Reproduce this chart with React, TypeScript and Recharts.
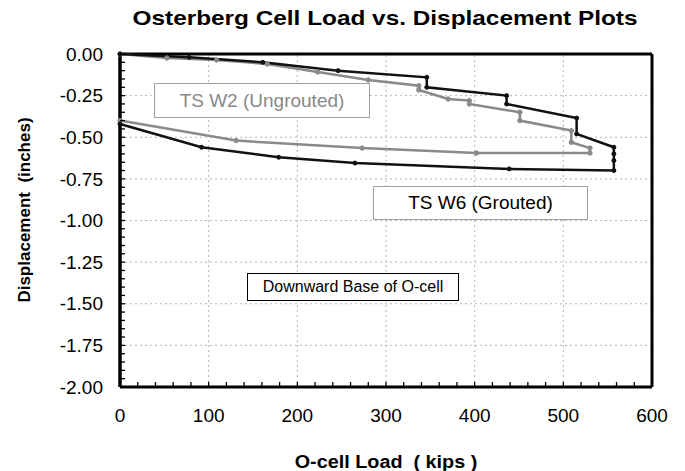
import { LineChart, Line, XAxis, YAxis, ReferenceLine } from "recharts";

// TS W6 (Grouted) - load (kips) / displacement (in), loading then unloading
const w6Load = [0, 78, 161, 246, 346, 346, 436, 436, 515, 515, 557, 557, 557, 557, 439, 265, 179, 92, 0];
const w6Disp = [0, -0.02, -0.05, -0.1, -0.14, -0.2, -0.25, -0.3, -0.385, -0.48, -0.56, -0.6, -0.64, -0.7, -0.69, -0.655, -0.62, -0.56, -0.42];

// TS W2 (Ungrouted)
const w2Load = [0, 53, 109, 166, 223, 280, 337, 337, 370, 394, 394, 451, 451, 509, 509, 530, 530, 402, 273, 131, 0];
const w2Disp = [0, -0.024, -0.036, -0.06, -0.108, -0.156, -0.19, -0.216, -0.27, -0.28, -0.3, -0.35, -0.4, -0.46, -0.53, -0.565, -0.595, -0.595, -0.565, -0.52, -0.4];

const xTicks = [0, 100, 200, 300, 400, 500, 600];
const yTicks = [0, -0.25, -0.5, -0.75, -1, -1.25, -1.5, -1.75, -2];
// minor tick marks: every 20 kips / every 0.05 in
const xMinor = Array.from({ length: 31 }, (_, i) => i * 20);
const yMinor = Array.from({ length: 41 }, (_, i) => Math.round(-i * 5) / 100);

const w6Data = w6Load.map((x, i) => ({ x, y: w6Disp[i] }));
const w2Data = w2Load.map((x, i) => ({ x, y: w2Disp[i] }));

const font = "'Liberation Sans', Arial, sans-serif";
const grid = "#b4b4b4";

function XTick({ x, y, payload }: any) {
  const v = payload.value;
  const major = xTicks.includes(v);
  return (
    <g>
      <line x1={x} x2={x} y1={y} y2={y - 5} stroke="#000" strokeWidth={1.3} />
      {major && (
        <text x={x} y={y + 22} dy="0.71em" textAnchor="middle" fill="#000" fontSize={19} fontFamily={font}>
          {v}
        </text>
      )}
    </g>
  );
}

function YTick({ x, y, payload }: any) {
  const v = payload.value;
  const major = yTicks.some((t) => Math.abs(t - v) < 1e-6);
  return (
    <g>
      <line x1={x} x2={x + 5} y1={y} y2={y} stroke="#000" strokeWidth={1.3} />
      {major && (
        <text x={x - 17} y={y} dy="0.355em" textAnchor="end" fill="#000" fontSize={19} fontFamily={font}>
          {v.toFixed(2)}
        </text>
      )}
    </g>
  );
}

export default function App() {
  return (
    <div style={{ position: "absolute", left: 0, top: 0, width: 685, height: 471, background: "#fff", fontFamily: font, overflow: "hidden" }}>
      <LineChart width={685} height={471} data={w6Data} margin={{ top: 54, right: 33, bottom: 0, left: 0 }}>
        {xTicks.slice(1, -1).map((t) => (
          <ReferenceLine key={"gx" + t} x={t} stroke={grid} strokeWidth={1} strokeDasharray="2 3" />
        ))}
        {yTicks.slice(1, -1).map((t) => (
          <ReferenceLine key={"gy" + t} y={t} stroke={grid} strokeWidth={1} strokeDasharray="2 3" />
        ))}
        <XAxis
          dataKey="x"
          type="number"
          domain={[0, 600]}
          ticks={xMinor}
          interval={0}
          height={84}
          tickSize={0}
          tickMargin={0}
          axisLine={{ stroke: "#000", strokeWidth: 3 }}
          tickLine={false}
          tick={<XTick />}
        />
        <YAxis
          type="number"
          domain={[-2, 0]}
          ticks={yMinor}
          interval={0}
          width={120}
          tickSize={0}
          tickMargin={0}
          axisLine={{ stroke: "#000", strokeWidth: 3.5 }}
          tickLine={false}
          tick={<YTick />}
        />
        <ReferenceLine x={600} stroke="#000" strokeWidth={3} />
        <ReferenceLine y={0} stroke="#000" strokeWidth={3} />
        <Line
          data={w2Data}
          dataKey="y"
          type="linear"
          stroke="#8a8a8a"
          strokeWidth={2.5}
          dot={{ r: 2.2, fill: "#8a8a8a", stroke: "#8a8a8a", strokeWidth: 1 }}
          isAnimationActive={false}
        />
        <Line
          data={w6Data}
          dataKey="y"
          type="linear"
          stroke="#111"
          strokeWidth={2.5}
          dot={{ r: 2, fill: "#111", stroke: "#111", strokeWidth: 1 }}
          isAnimationActive={false}
        />
      </LineChart>

      <div style={{ position: "absolute", left: 0, width: 770, top: 6, textAlign: "center", fontWeight: "bold", fontSize: 21, transform: "scaleX(1.16)", transformOrigin: "385px 0" }}>
        Osterberg Cell Load vs. Displacement Plots
      </div>
      <div style={{ position: "absolute", left: 25, top: 211, width: 0, height: 0 }}>
        <div style={{ position: "absolute", left: -150, top: -11, width: 300, textAlign: "center", fontWeight: "bold", fontSize: 17, whiteSpace: "pre", transform: "rotate(-90deg)" }}>
          {"Displacement  (inches)"}
        </div>
      </div>
      <div style={{ position: "absolute", left: 236, width: 300, top: 452, textAlign: "center", fontWeight: "bold", fontSize: 18, whiteSpace: "pre", transform: "scaleX(1.1)" }}>
        {"O-cell Load  ( kips )"}
      </div>

      <div style={{ position: "absolute", left: 154, top: 83, width: 214, height: 33, border: "1.5px solid #a0a0a0", background: "#fff", color: "#888", fontSize: 19, display: "flex", alignItems: "center", justifyContent: "center" }}>
        TS W2 (Ungrouted)
      </div>
      <div style={{ position: "absolute", left: 373, top: 186, width: 213, height: 32, border: "1.5px solid #a0a0a0", background: "#fff", color: "#000", fontSize: 19, display: "flex", alignItems: "center", justifyContent: "center" }}>
        TS W6 (Grouted)
      </div>
      <div style={{ position: "absolute", left: 247, top: 273, width: 210, height: 26, border: "1px solid #000", background: "#fff", color: "#000", fontSize: 16, display: "flex", alignItems: "center", justifyContent: "center" }}>
        Downward Base of O-cell
      </div>
    </div>
  );
}
